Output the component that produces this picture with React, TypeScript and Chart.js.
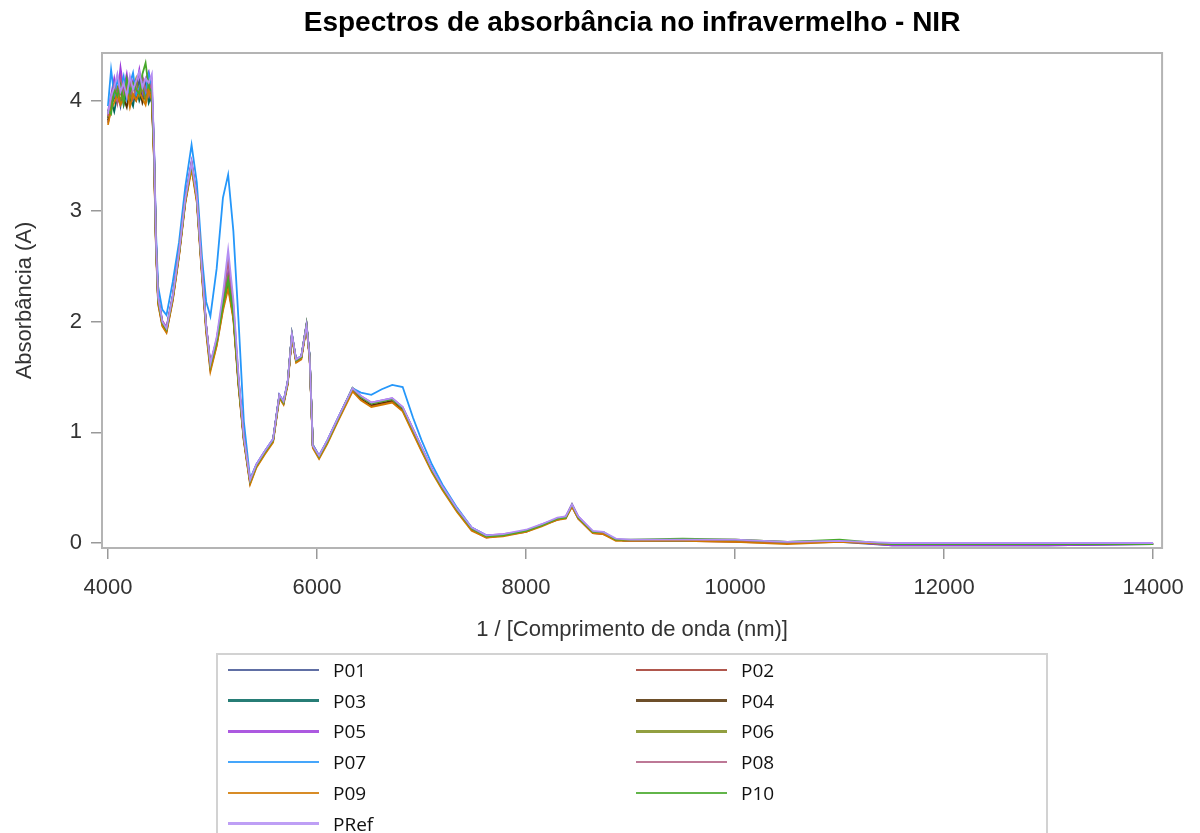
import React, { useEffect, useRef } from 'react';
import { Chart, registerables } from 'chart.js';

Chart.register(...registerables);

// 1 / [Comprimento de onda (nm)]
const WAVENUMBERS = [
  4000, 4030, 4060, 4090, 4120, 4150, 4180, 4210, 4240, 4270,
  4300, 4330, 4360, 4390, 4420, 4440, 4460, 4480, 4520, 4560,
  4620, 4680, 4740, 4800, 4850, 4900, 4940, 4980, 5040, 5100,
  5150, 5200, 5250, 5300, 5360, 5420, 5500, 5580, 5640, 5680,
  5720, 5760, 5800, 5850, 5900, 5930, 5960, 6020, 6100, 6200,
  6340, 6420, 6520, 6620, 6720, 6820, 6920, 7000, 7100, 7200,
  7340, 7480, 7620, 7780, 8000, 8150, 8300, 8380, 8440, 8500,
  8640, 8740, 8860, 9000, 9500, 10000, 10500, 11000, 11500, 12000,
  13000, 14000,
];

const P01 = [
  3.84, 3.98, 4.02, 4.10, 3.95, 4.12, 4.05, 4.15, 4.00, 4.08,
  4.18, 4.02, 4.10, 4.05, 3.98, 3.58, 2.72, 2.22, 2.00, 1.94,
  2.23, 2.63, 3.12, 3.44, 3.13, 2.46, 1.96, 1.61, 1.83, 2.16,
  2.38, 2.07, 1.45, 0.95, 0.56, 0.70, 0.82, 0.93, 1.33, 1.27,
  1.45, 1.88, 1.65, 1.68, 1.97, 1.68, 0.88, 0.78, 0.92, 1.12,
  1.39, 1.31, 1.25, 1.27, 1.29, 1.21, 1.01, 0.85, 0.66, 0.50,
  0.30, 0.13, 0.06, 0.07, 0.11, 0.16, 0.22, 0.23, 0.34, 0.23,
  0.10, 0.09, 0.03, 0.02, 0.02, 0.02, 0.00, 0.01, -0.02, -0.02,
  -0.02, -0.01,
];
const P02 = [
  3.80, 3.92, 4.08, 4.00, 4.22, 4.05, 4.12, 3.98, 4.15, 4.02,
  4.10, 4.20, 4.04, 4.12, 4.00, 3.50, 2.66, 2.17, 1.97, 1.91,
  2.20, 2.60, 3.08, 3.40, 3.10, 2.42, 1.92, 1.57, 1.79, 2.12,
  2.34, 2.04, 1.42, 0.93, 0.54, 0.69, 0.81, 0.92, 1.32, 1.26,
  1.44, 1.87, 1.64, 1.67, 1.96, 1.67, 0.87, 0.77, 0.91, 1.11,
  1.38, 1.30, 1.24, 1.26, 1.28, 1.20, 1.00, 0.84, 0.65, 0.49,
  0.29, 0.12, 0.05, 0.07, 0.10, 0.16, 0.21, 0.23, 0.33, 0.22,
  0.09, 0.08, 0.03, 0.02, 0.02, 0.01, 0.00, 0.02, -0.01, -0.01,
  -0.01, -0.01,
];
const P03 = [
  3.88, 4.00, 3.90, 4.05, 4.12, 3.96, 4.08, 4.02, 3.95, 4.14,
  4.00, 4.08, 4.16, 3.98, 4.06, 3.56, 2.70, 2.20, 1.99, 1.93,
  2.22, 2.62, 3.10, 3.43, 3.12, 2.45, 1.95, 1.60, 1.82, 2.15,
  2.36, 2.06, 1.44, 0.95, 0.56, 0.70, 0.82, 0.93, 1.33, 1.27,
  1.45, 1.88, 1.65, 1.68, 1.97, 1.68, 0.88, 0.78, 0.92, 1.12,
  1.40, 1.32, 1.26, 1.28, 1.30, 1.22, 1.02, 0.86, 0.66, 0.50,
  0.30, 0.13, 0.06, 0.07, 0.11, 0.16, 0.22, 0.23, 0.34, 0.23,
  0.10, 0.09, 0.03, 0.02, 0.03, 0.02, 0.00, 0.02, -0.01, -0.01,
  -0.01, -0.01,
];
const P04 = [
  3.82, 3.95, 4.04, 3.98, 4.08, 4.02, 3.94, 4.10, 4.04, 4.00,
  4.12, 3.98, 4.06, 4.14, 4.02, 3.52, 2.68, 2.19, 1.98, 1.92,
  2.21, 2.61, 3.09, 3.41, 3.11, 2.44, 1.94, 1.59, 1.81, 2.14,
  2.32, 2.05, 1.44, 0.94, 0.55, 0.70, 0.82, 0.93, 1.33, 1.27,
  1.45, 1.88, 1.65, 1.68, 1.97, 1.68, 0.88, 0.78, 0.92, 1.12,
  1.38, 1.31, 1.25, 1.27, 1.29, 1.21, 1.01, 0.85, 0.66, 0.50,
  0.30, 0.13, 0.06, 0.07, 0.11, 0.16, 0.22, 0.23, 0.34, 0.23,
  0.10, 0.09, 0.03, 0.02, 0.02, 0.02, 0.00, 0.02, -0.01, -0.01,
  -0.01, -0.01,
];
const P05 = [
  3.90, 4.05, 4.20, 4.02, 4.30, 4.10, 4.24, 4.05, 4.18, 4.12,
  4.28, 4.08, 4.20, 4.26, 4.10, 3.62, 2.74, 2.23, 2.01, 1.95,
  2.24, 2.64, 3.12, 3.45, 3.14, 2.47, 1.97, 1.62, 1.84, 2.18,
  2.45, 2.10, 1.47, 0.96, 0.57, 0.71, 0.83, 0.94, 1.34, 1.28,
  1.46, 1.89, 1.66, 1.69, 1.98, 1.69, 0.89, 0.79, 0.93, 1.13,
  1.40, 1.33, 1.27, 1.29, 1.31, 1.23, 1.03, 0.87, 0.67, 0.51,
  0.31, 0.14, 0.07, 0.08, 0.11, 0.17, 0.22, 0.24, 0.35, 0.24,
  0.10, 0.09, 0.03, 0.02, 0.03, 0.02, 0.00, 0.02, -0.02, -0.02,
  -0.02, -0.01,
];
const P06 = [
  3.85, 3.96, 4.06, 4.12, 4.00, 4.08, 4.16, 4.02, 4.10, 4.20,
  4.04, 4.12, 4.00, 4.18, 4.05, 3.54, 2.69, 2.20, 1.99, 1.93,
  2.22, 2.62, 3.10, 3.42, 3.12, 2.45, 1.95, 1.60, 1.82, 2.15,
  2.40, 2.08, 1.45, 0.95, 0.56, 0.70, 0.82, 0.93, 1.33, 1.27,
  1.45, 1.88, 1.65, 1.68, 1.97, 1.68, 0.88, 0.78, 0.92, 1.12,
  1.39, 1.32, 1.26, 1.28, 1.30, 1.22, 1.02, 0.86, 0.66, 0.50,
  0.30, 0.13, 0.06, 0.07, 0.11, 0.16, 0.22, 0.23, 0.34, 0.23,
  0.10, 0.09, 0.03, 0.02, 0.03, 0.03, 0.01, 0.02, -0.01, -0.01,
  -0.01, -0.01,
];
const P07 = [
  3.95, 4.28, 4.05, 4.18, 4.10, 4.22, 4.02, 4.15, 4.25, 4.05,
  4.12, 4.20, 4.08, 4.24, 4.12, 3.62, 2.80, 2.32, 2.11, 2.06,
  2.36, 2.72, 3.22, 3.60, 3.26, 2.58, 2.18, 2.05, 2.48, 3.12,
  3.33, 2.82, 2.00, 1.10, 0.58, 0.71, 0.83, 0.94, 1.34, 1.28,
  1.46, 1.89, 1.66, 1.69, 1.97, 1.69, 0.89, 0.79, 0.93, 1.13,
  1.40, 1.36, 1.34, 1.39, 1.43, 1.41, 1.13, 0.93, 0.71, 0.53,
  0.32, 0.14, 0.07, 0.07, 0.11, 0.16, 0.22, 0.23, 0.34, 0.23,
  0.10, 0.09, 0.03, 0.02, 0.02, 0.02, 0.00, 0.02, -0.01, -0.01,
  -0.01, -0.01,
];
const P08 = [
  3.86, 4.02, 4.14, 3.98, 4.20, 4.06, 4.10, 4.18, 4.02, 4.12,
  4.06, 4.22, 4.10, 4.04, 4.16, 3.58, 2.71, 2.21, 2.00, 1.94,
  2.23, 2.63, 3.11, 3.43, 3.13, 2.46, 1.96, 1.61, 1.84, 2.20,
  2.55, 2.15, 1.48, 0.96, 0.56, 0.70, 0.82, 0.93, 1.33, 1.27,
  1.45, 1.88, 1.65, 1.68, 1.97, 1.68, 0.88, 0.78, 0.92, 1.12,
  1.39, 1.32, 1.26, 1.28, 1.30, 1.22, 1.02, 0.86, 0.66, 0.50,
  0.30, 0.13, 0.06, 0.07, 0.11, 0.16, 0.22, 0.23, 0.34, 0.23,
  0.10, 0.09, 0.03, 0.02, 0.03, 0.02, 0.00, 0.02, -0.01, -0.01,
  -0.01, -0.01,
];
const P09 = [
  3.78, 3.92, 3.98, 4.06, 3.96, 4.02, 4.10, 3.94, 4.06, 4.00,
  4.08, 4.02, 3.96, 4.10, 4.00, 3.48, 2.64, 2.16, 1.96, 1.90,
  2.19, 2.59, 3.07, 3.38, 3.08, 2.40, 1.90, 1.55, 1.78, 2.10,
  2.30, 2.02, 1.41, 0.92, 0.53, 0.68, 0.80, 0.91, 1.31, 1.25,
  1.43, 1.86, 1.63, 1.66, 1.95, 1.66, 0.86, 0.76, 0.90, 1.10,
  1.37, 1.29, 1.23, 1.25, 1.27, 1.19, 0.99, 0.83, 0.64, 0.48,
  0.28, 0.11, 0.05, 0.06, 0.10, 0.15, 0.21, 0.22, 0.33, 0.22,
  0.09, 0.08, 0.02, 0.02, 0.02, 0.01, -0.01, 0.01, -0.01, -0.01,
  -0.01, -0.01,
];
const P10 = [
  3.92, 3.88, 4.10, 4.04, 4.14, 3.98, 4.20, 4.08, 4.16, 4.10,
  4.06, 4.24, 4.34, 4.12, 4.08, 3.56, 2.70, 2.20, 1.99, 1.93,
  2.22, 2.62, 3.10, 3.42, 3.12, 2.45, 1.95, 1.60, 1.82, 2.15,
  2.38, 2.07, 1.45, 0.95, 0.56, 0.70, 0.82, 0.93, 1.33, 1.27,
  1.45, 1.89, 1.65, 1.68, 1.98, 1.68, 0.88, 0.78, 0.92, 1.12,
  1.40, 1.32, 1.26, 1.28, 1.30, 1.22, 1.02, 0.86, 0.66, 0.50,
  0.30, 0.13, 0.06, 0.07, 0.11, 0.16, 0.22, 0.23, 0.35, 0.23,
  0.10, 0.10, 0.03, 0.03, 0.04, 0.03, 0.01, 0.03, -0.01, -0.01,
  -0.01, -0.01,
];
const PREF = [
  3.88, 4.04, 4.12, 4.24, 4.08, 4.16, 4.04, 4.22, 4.10, 4.18,
  4.26, 4.12, 4.20, 4.16, 4.24, 3.60, 2.72, 2.22, 2.00, 1.94,
  2.23, 2.63, 3.11, 3.44, 3.13, 2.46, 1.96, 1.62, 1.86, 2.25,
  2.65, 2.20, 1.50, 0.96, 0.57, 0.71, 0.83, 0.94, 1.34, 1.28,
  1.46, 1.89, 1.66, 1.69, 1.97, 1.68, 0.88, 0.79, 0.93, 1.13,
  1.40, 1.33, 1.27, 1.29, 1.31, 1.23, 1.03, 0.87, 0.67, 0.51,
  0.31, 0.14, 0.07, 0.08, 0.12, 0.17, 0.23, 0.24, 0.35, 0.24,
  0.11, 0.10, 0.04, 0.03, 0.03, 0.03, 0.01, 0.02, 0.00, 0.00,
  0.00, 0.00,
];

const SERIES_NAMES = ['P01', 'P02', 'P03', 'P04', 'P05', 'P06', 'P07', 'P08', 'P09', 'P10', 'PRef'];
const SERIES_VALUES = [P01, P02, P03, P04, P05, P06, P07, P08, P09, P10, PREF];
const SERIES_COLORS = [
  '#445694', '#A23A2E', '#01665E', '#543005', '#9D3CDB', '#7F8E1F',
  '#2597FA', '#B26084', '#D17800', '#47A82A', '#B38EF3',
];

const X_TICKS = [4000, 6000, 8000, 10000, 12000, 14000];
const Y_TICKS = [0, 1, 2, 3, 4];

const TITLE = 'Espectros de absorbância no infravermelho - NIR';
const X_TITLE = '1 / [Comprimento de onda (nm)]';
const Y_TITLE = 'Absorbância (A)';

const SANS = "'Liberation Sans', Arial, sans-serif";
const LEGEND_FONT = "'Open Sans', 'Noto Sans', sans-serif";

const framePlugin = {
  id: 'frame',
  afterDraw(chart: any) {
    const { ctx, chartArea } = chart;
    const { left, top, right, bottom } = chartArea;
    ctx.save();
    ctx.strokeStyle = '#b4b4b4';
    ctx.lineWidth = 2;
    ctx.strokeRect(left, top, right - left, bottom - top);
    ctx.restore();
  },
};

export default function App() {
  const canvasRef = useRef<HTMLCanvasElement | null>(null);

  useEffect(() => {
    document.body.style.margin = '0';
    const canvas = canvasRef.current;
    if (!canvas) return;
    const n = SERIES_NAMES.length;
    const datasets = SERIES_NAMES.map((name, i) => ({
      label: name,
      data: WAVENUMBERS.map((x, j) => ({ x, y: SERIES_VALUES[i][j] })),
      borderColor: SERIES_COLORS[i],
      backgroundColor: SERIES_COLORS[i],
      borderWidth: 1.8,
      pointRadius: 0,
      tension: 0,
      fill: false,
      order: n - i,
    }));

    const chart = new Chart(canvas, {
      type: 'line',
      data: { datasets },
      plugins: [framePlugin],
      options: {
        responsive: false,
        animation: false,
        devicePixelRatio: 1,
        layout: { padding: { left: 0, right: 37, top: 0, bottom: 185 } },
        plugins: {
          legend: { display: false },
          tooltip: { enabled: false },
          title: {
            display: true,
            fullSize: false,
            text: TITLE,
            color: '#000',
            font: { family: SANS, size: 28, weight: 'bold' },
            padding: { top: 6, bottom: 13.4 },
          },
        },
        scales: {
          x: {
            type: 'linear',
            min: 3943,
            max: 14086,
            afterFit(scale: any) { scale.height = 100; },
            afterBuildTicks(scale: any) { scale.ticks = X_TICKS.map((v) => ({ value: v })); },
            border: { display: false },
            grid: { drawOnChartArea: false, drawTicks: true, tickLength: 11, color: '#999', lineWidth: 1.5 },
            ticks: {
              color: '#333',
              font: { family: SANS, size: 22 },
              padding: 16,
              maxRotation: 0,
              callback: (v: any) => String(v),
            },
            title: {
              display: true,
              text: X_TITLE,
              color: '#333',
              font: { family: SANS, size: 22 },
              padding: { top: 0, bottom: 5 },
            },
          },
          y: {
            type: 'linear',
            min: -0.045,
            max: 4.43,
            afterFit(scale: any) { scale.width = 102; },
            afterBuildTicks(scale: any) { scale.ticks = Y_TICKS.map((v) => ({ value: v })); },
            border: { display: false },
            grid: { drawOnChartArea: false, drawTicks: true, tickLength: 11, color: '#999', lineWidth: 1.5 },
            ticks: {
              color: '#333',
              font: { family: SANS, size: 22 },
              padding: 9,
              callback: (v: any) => String(v),
            },
            title: {
              display: true,
              text: Y_TITLE,
              color: '#333',
              font: { family: SANS, size: 22 },
              padding: { top: 12, bottom: 0 },
            },
          },
        },
      },
    });
    return () => chart.destroy();
  }, []);

  return (
    <div style={{ position: 'absolute', left: 0, top: 0, width: 1200, height: 833, overflow: 'hidden', background: '#fff' }}>
      <canvas ref={canvasRef} width={1200} height={833} style={{ position: 'absolute', left: 0, top: 0 }} />
      <div
        style={{
          position: 'absolute', left: 216, top: 653, width: 832, height: 200,
          border: '2px solid #d2d2d2', boxSizing: 'border-box',
        }}
      />
      {SERIES_NAMES.map((name, i) => {
        const row = Math.floor(i / 2);
        const col = i % 2;
        const cy = 670 + row * 30.7;
        const lineLeft = col === 0 ? 228 : 636;
        return (
          <div key={name}>
            <div
              style={{
                position: 'absolute', left: lineLeft, top: cy - 1.25, width: 91, height: 2.5,
                background: SERIES_COLORS[i], opacity: 0.85,
              }}
            />
            <div
              style={{
                position: 'absolute', left: lineLeft + 105, top: cy - 14, height: 28, lineHeight: '28px',
                fontFamily: LEGEND_FONT, fontSize: 19, color: '#111', whiteSpace: 'nowrap',
              }}
            >
              {name}
            </div>
          </div>
        );
      })}
    </div>
  );
}
